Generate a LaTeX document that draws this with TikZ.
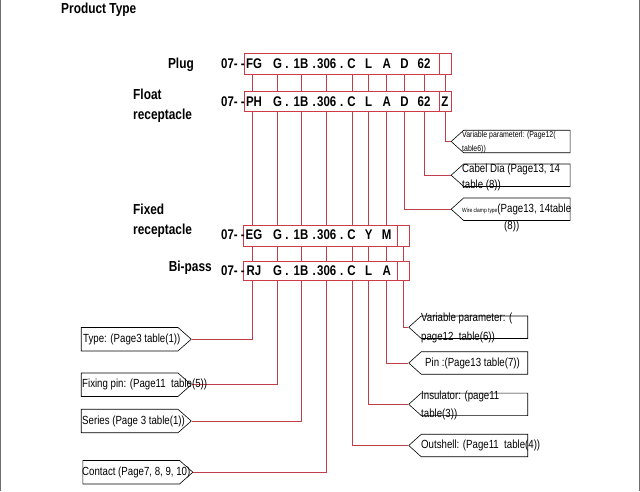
\documentclass[tikz,border=0pt]{standalone}
\usepackage{fontspec}
\setmainfont{Liberation Sans}
\newfontfamily\nar[FakeStretch=0.82]{Liberation Sans}
\usetikzlibrary{shapes.symbols}
\definecolor{lnred}{RGB}{192,62,74}
\definecolor{boxred}{RGB}{205,60,70}
\definecolor{framegray}{RGB}{110,110,110}
\begin{document}
\begin{tikzpicture}[x=1pt,y=-1pt,
  conn/.style={draw=lnred, line width=0.8pt},
  rowbox/.style={draw=boxred, fill=white, line width=0.9pt, inner sep=0, anchor=north west},
  lbox/.style={shape=signal, signal to=east, signal pointer angle=83, draw=black, line width=0.6pt, minimum width=110pt, minimum height=23.5pt, inner sep=0, anchor=east},
  rbox/.style={shape=signal, signal to=west, signal pointer angle=84, draw=black, line width=0.6pt, minimum width=119pt, minimum height=22.5pt, inner sep=0, anchor=west},
  code/.style={font=\nar\bfseries\fontsize{14}{16}\selectfont, inner sep=0, text height=10pt, text depth=0pt},
  lbl/.style={font=\nar\bfseries\fontsize{14.5}{20}\selectfont, inner sep=0, align=left},
  txt/.style={font=\nar\fontsize{11.8}{13}\selectfont, inner sep=0, anchor=west},
  tiny/.style={font=\nar\fontsize{8.5}{10}\selectfont, inner sep=0, anchor=west},
]
\useasboundingbox (0,0) rectangle (640,491);
% page frame
\draw[framegray, line width=1pt] (0.6,0) -- (0.6,491);
\draw[framegray, line width=1pt] (639.4,0) -- (639.4,491);

% column tops (bottom edge of the plug row)
\coordinate (k1) at (252.5,74);
\coordinate (k2) at (277.7,74);
\coordinate (k3) at (301,74);
\coordinate (k4) at (326.7,74);
\coordinate (k5) at (352.3,74);
\coordinate (k6) at (368.7,74);
\coordinate (k7) at (386.7,74);
\coordinate (k8) at (404.5,74);
\coordinate (k9) at (424,74);
\coordinate (k10) at (445,74);
\coordinate (kf) at (403.5,245.5);

% description boxes, right side
\node[rbox] (vp1) at (450.7,141.5) {};
\node[rbox] (cab) at (450.7,175.2) {};
\node[rbox] (wire) at (450.7,209.2) {};
\node[rbox] (vp2) at (408.3,327.2) {};
\node[rbox] (pin) at (408.3,363) {};
\node[rbox] (ins) at (408.3,404.3) {};
\node[rbox] (out) at (408.3,445.5) {};
% description boxes, left side
\node[lbox] (type) at (191.7,339.2) {};
\node[lbox] (fix) at (191.7,384.7) {};
\node[lbox] (ser) at (191.7,421) {};
\node[lbox] (con) at (193.3,472.2) {};

% connectors
\draw[conn] (k10) |- (vp1.west);
\draw[conn] (k9) |- (cab.west);
\draw[conn] (k8) |- (wire.west);
\draw[conn] (kf) |- (vp2.west);
\draw[conn] (k7) |- (pin.west);
\draw[conn] (k6) |- (ins.west);
\draw[conn] (k5) |- (out.west);
\draw[conn] (k1) |- (type.east);
\draw[conn] (k2) |- (fix.east);
\draw[conn] (k3) |- (ser.east);
\draw[conn] (k4) |- (con.east);

% code rows
\node[rowbox, minimum width=207pt, minimum height=21pt] (plug) at (244,53) {};
\node[rowbox, minimum width=207pt, minimum height=20pt] (float) at (244,91) {};
\node[rowbox, minimum width=166.6pt, minimum height=21pt] (fixed) at (242.7,224.5) {};
\node[rowbox, minimum width=166.6pt, minimum height=19pt] (bipass) at (242.7,261) {};
\draw[boxred, line width=0.9pt] (439,53) -- (439,74);
\draw[boxred, line width=0.9pt] (439,91) -- (439,111);
\draw[boxred, line width=0.9pt] (397.7,224.5) -- (397.7,245.5);
\draw[boxred, line width=0.9pt] (397.7,261) -- (397.7,280);

\foreach \t/\x [count=\i] in {FG/254, G/277.7, ./287, 1B/301, ./314.3, 306/326.7, ./341.7, C/351.5, L/368.7, A/386.7, D/404.5, 62/424}
  \node[code] (pc\i) at (\x,63.5) {\t};
\foreach \t/\x [count=\i] in {PH/254, G/277.7, ./287, 1B/301, ./314.3, 306/326.7, ./341.7, C/351.5, L/368.7, A/386.7, D/404.5, 62/424, Z/445}
  \node[code] (fc\i) at (\x,101) {\t};
\foreach \t/\x [count=\i] in {EG/254, G/277.7, ./287, 1B/301, ./314.3, 306/326.7, ./341.7, C/351.5, Y/368.7, M/386.7}
  \node[code] (xc\i) at (\x,234.5) {\t};
\foreach \t/\x [count=\i] in {RJ/254, G/277.7, ./287, 1B/301, ./314.3, 306/326.7, ./341.7, C/351.5, L/368.7, A/386.7}
  \node[code] (bc\i) at (\x,270) {\t};
\node[code, anchor=east] (pp) at (245,63.5) {07- -};
\node[code, anchor=east] (fp) at (245,101) {07- -};
\node[code, anchor=east] (xp) at (245,234.5) {07- -};
\node[code, anchor=east] (bp) at (245,270) {07- -};

% labels
\node[lbl, anchor=west] (title) at (61,9.5) {Product Type};
\node[lbl, anchor=east] (lplug) at (194,65) {Plug};
\node[lbl, anchor=west] (lfloat) at (133,106) {Float\\receptacle};
\node[lbl, anchor=west] (lfixed) at (133,220.5) {Fixed\\receptacle};
\node[lbl, anchor=east] (lbip) at (212,267.5) {Bi-pass};

% box texts
\node[tiny] (t1) at (462,135) {Variable parameterl: (Page12(};
\node[tiny] (t1b) at (462,149.5) {table6))};
\node[txt] (t2) at (462,169.5) {Cabel Dia (Page13, 14};
\node[txt] (t2b) at (462,185) {table (8))};
\node[txt] (t3) at (462,209) {{\fontsize{6}{7}\selectfont Wire clamp type}(Page13, 14table};
\node[txt] (t3b) at (504,226) {(8))};
\node[txt] (t4) at (421,318.5) {Variable parameter: (};
\node[txt] (t4b) at (421,337.5) {page12\ \ table(6))};
\node[txt] (t5) at (425,363) {Pin :(Page13 table(7))};
\node[txt] (t6) at (421,396) {Insulator: (page11};
\node[txt] (t6b) at (421,414.5) {table(3))};
\node[txt] (t7) at (421,445.5) {Outshell: (Page11\ \ table(4))};
\node[txt] (t8) at (83,339.5) {Type: (Page3 table(1))};
\node[txt] (t9) at (82,384.7) {Fixing pin: (Page11\ \ table(5))};
\node[txt] (t10) at (82,421) {Series (Page 3 table(1))};
\node[txt] (t11) at (82,472.2) {Contact (Page7, 8, 9, 10)};
\end{tikzpicture}
\end{document}
